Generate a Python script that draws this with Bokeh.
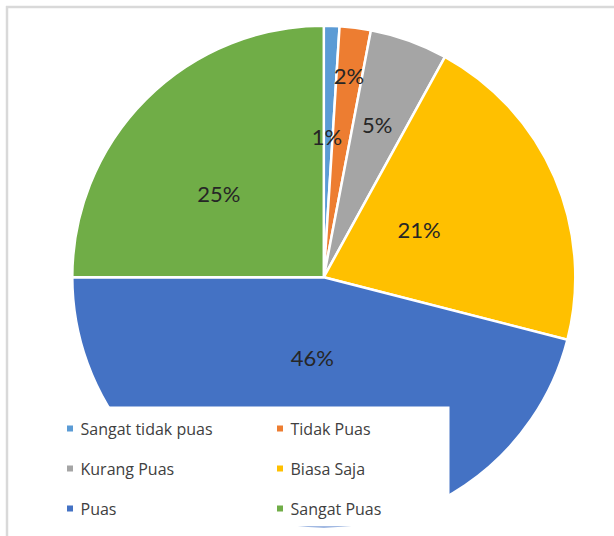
import numpy as np
from bokeh.plotting import figure
from bokeh.models import ColumnDataSource, Range1d
from bokeh.core.properties import value
from bokeh.embed import file_html
from bokeh.resources import INLINE

# ---- data ----
categories = ["Sangat tidak puas", "Tidak Puas", "Kurang Puas", "Biasa Saja", "Puas", "Sangat Puas"]
counts = [1, 2, 5, 21, 46, 25]
colors = ["#5B9BD5", "#ED7D31", "#A5A5A5", "#FFC000", "#4472C4", "#70AD47"]

# ---- layout ----
W, H = 614, 536
cx, cy, R = 323.3, 259.3, 251.5
label_r = [0.55, 0.80, 0.635, 0.42, 0.33, 0.53]      # label distance (fraction of radius)
label_shift_deg = [-0.5, 0.0, -0.3, -2.1, 0.7, -7.0]  # clockwise nudge of label angle
label_dy = 2.0                                       # baseline correction in px

total = float(sum(counts))
frac = np.array(counts) / total
cum_end = np.cumsum(frac)
cum_start = cum_end - frac
start = np.pi / 2 - 2 * np.pi * cum_start
end = np.pi / 2 - 2 * np.pi * cum_end
mid = (start + end) / 2 - np.deg2rad(label_shift_deg)
lx = cx + R * np.array(label_r) * np.cos(mid)
ly = cy + R * np.array(label_r) * np.sin(mid) + label_dy
labels = [f"{int(round(f * 100))}%" for f in frac]

src = ColumnDataSource(dict(cat=categories, color=colors, start=start, end=end,
                            lx=lx, ly=ly, label=labels))

p = figure(width=W, height=H, output_backend="svg", toolbar_location=None,
           x_range=Range1d(0, W), y_range=Range1d(0, H),
           min_border=0, min_border_left=0, min_border_right=0,
           min_border_top=0, min_border_bottom=0)
p.axis.visible = False
p.grid.visible = False
p.outline_line_color = None
p.background_fill_color = "white"
p.border_fill_color = "white"

p.wedge(x=cx, y=cy, radius=R, start_angle="start", end_angle="end", direction="clock",
        fill_color="color", line_color="white", line_width=2.5, source=src)

p.text(x="lx", y="ly", text="label", source=src, text_align="center", text_baseline="middle",
       text_font=value("Lato"), text_font_size="22px", text_color="#262626")

# legend box (white, overlapping the pie as in the original)
p.quad(left=50, right=449, bottom=10, top=130, fill_color="white", line_color=None)

rows_y = [108, 68, 28]
col_mx = [69.5, 279.5]
col_tx = [80, 290]
leg_x, leg_y, leg_tx = [], [], []
for i, c in enumerate(categories):
    r, k = divmod(i, 2)
    leg_x.append(col_mx[k])
    leg_tx.append(col_tx[k])
    leg_y.append(rows_y[r])
lsrc = ColumnDataSource(dict(x=leg_x, y=leg_y, tx=leg_tx, cat=categories, color=colors))
p.scatter(x="x", y="y", marker="square", size=6, fill_color="color", line_color=None, source=lsrc)
p.text(x="tx", y="y", text="cat", source=lsrc, text_align="left", text_baseline="middle",
       text_font=value("Open Sans"), text_font_size="16px", text_color="#404040")

# chart border (left and top visible)
p.segment(x0=[6.5, 5.5], y0=[0, 529.5], x1=[6.5, W], y1=[530.5, 529.5],
          line_color="#D9D9D9", line_width=2.5)

open("out.html", "w").write(file_html(p, INLINE))
